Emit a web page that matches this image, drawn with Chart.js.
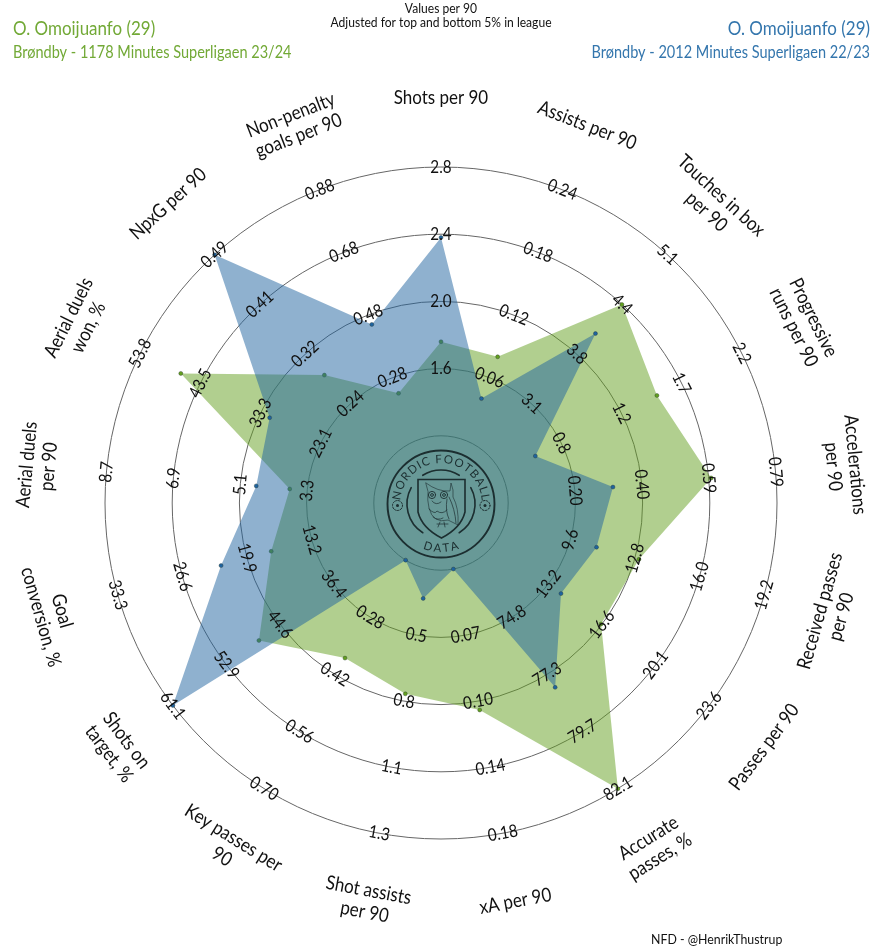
<!DOCTYPE html>
<html>
<head>
<meta charset="utf-8">
<title>O. Omoijuanfo radar</title>
<script src="https://cdn.jsdelivr.net/npm/chart.js@4"></script>
<style>
    html, body { margin: 0; padding: 0; background: #fff; }
    canvas { display: block; }
</style>
</head>
<body>
<canvas id="radar" width="883" height="950"></canvas>
<script>
// Metric names, clockwise from the top (\n = line break in the label)
const categories = [
    'Shots per 90', 'Assists per 90', 'Touches in box\nper 90', 'Progressive\nruns per 90',
    'Accelerations\nper 90', 'Received passes\nper 90', 'Passes per 90', 'Accurate\npasses, %',
    'xA per 90', 'Shot assists\nper 90', 'Key passes per\n90', 'Shots on\ntarget, %',
    'Goal\nconversion, %', 'Aerial duels\nper 90', 'Aerial duels\nwon, %', 'NpxG per 90',
    'Non-penalty\ngoals per 90'
];

// Lowest value of each axis (sits on the inner circle)
const axisMin = [1.2, 0, 2.43, 0.3, 0, 6.4, 9.7, 72.4, 0.03, 0.22, 0.14, 28.2, 6.5, 1.5, 12.9, 0.16, 0.08];
// Highest value of each axis (sits on the outer circle)
const axisMax = [2.8, 0.24, 5.1, 2.2, 0.79, 19.2, 23.6, 82.1, 0.18, 1.3, 0.70, 61.1, 33.3, 8.7, 53.8, 0.49, 0.88];

// Tick labels per ring (inner to outer), one row per ring
const ring2Labels = ['1.6', '0.06', '3.1', '0.8', '0.20', '9.6', '13.2', '74.8', '0.07', '0.5', '0.28', '36.4', '13.2', '3.3', '23.1', '0.24', '0.28'];
const ring3Labels = ['2.0', '0.12', '3.8', '1.2', '0.40', '12.8', '16.6', '77.3', '0.10', '0.8', '0.42', '44.6', '19.9', '5.1', '33.3', '0.32', '0.48'];
const ring4Labels = ['2.4', '0.18', '4.4', '1.7', '0.59', '16.0', '20.1', '79.7', '0.14', '1.1', '0.56', '52.9', '26.6', '6.9', '43.5', '0.41', '0.68'];
const ring5Labels = ['2.8', '0.24', '5.1', '2.2', '0.79', '19.2', '23.6', '82.1', '0.18', '1.3', '0.70', '61.1', '33.3', '8.7', '53.8', '0.49', '0.88'];

// Season values
const season2324 = [1.76, 0.08, 4.43, 1.53, 0.60, 13.0, 16.6, 82.1, 0.11, 0.73, 0.38, 47.9, 17.4, 3.77, 46.9, 0.29, 0.23];
const season2223 = [2.38, 0.04, 4.04, 0.57, 0.31, 10.9, 14.0, 77.8, 0.03, 0.34, 0.14, 61.1, 22.6, 4.67, 31.8, 0.49, 0.45];

const GREEN = '#639f1f';
const BLUE = '#1f639f';
const GREEN_TEXT = '#72a936';
const BLUE_TEXT = '#3476ad';
const FONT = 'Lato, "Open Sans", sans-serif';
// the lettering is a bit narrower than plain Lato
const NARROW = 0.87;

// Every axis has its own range, so convert to ring units: 1 = inner circle, 5 = outer circle
function toRing(values) {
    return values.map((v, i) => 1 + 4 * (v - axisMin[i]) / (axisMax[i] - axisMin[i]));
}

// Rotation of a text at axis i, flipped on the lower half so it stays readable
function labelRotation(scale, i) {
    let a = scale.getIndexAngle(i);
    if (a > Math.PI / 2 && a < Math.PI * 1.5) a -= Math.PI;
    return a;
}

function narrowText(ctx, txt, x, y) {
    ctx.save();
    ctx.translate(x, y);
    ctx.scale(NARROW, 1);
    ctx.fillText(txt, 0, 0);
    ctx.restore();
}

const radarLabels = {
    id: 'radarLabels',
    afterDatasetsDraw(chart) {
        const ctx = chart.ctx;
        const scale = chart.scales.r;
        const rings = [ring2Labels, ring3Labels, ring4Labels, ring5Labels];

        ctx.save();
        ctx.fillStyle = '#111';
        ctx.textAlign = 'center';
        ctx.textBaseline = 'middle';

        // tick labels on the rings
        ctx.font = '17.5px ' + FONT;
        rings.forEach((row, r) => {
            row.forEach((txt, i) => {
                const p = scale.getPointPositionForValue(i, r + 2);
                ctx.save();
                ctx.translate(p.x, p.y);
                ctx.rotate(labelRotation(scale, i));
                narrowText(ctx, txt, 0, 0);
                ctx.restore();
            });
        });

        // metric names outside the outer circle
        ctx.font = '19.5px ' + FONT;
        categories.forEach((name, i) => {
            const p = scale.getPointPositionForValue(i, 5 + 69 / 67.2);
            const lines = name.split('\n');
            ctx.save();
            ctx.translate(p.x, p.y);
            ctx.rotate(labelRotation(scale, i));
            lines.forEach((line, n) => {
                narrowText(ctx, line, 0, (n - (lines.length - 1) / 2) * 22);
            });
            ctx.restore();
        });
        ctx.restore();

        drawLogo(ctx, scale.xCenter, scale.yCenter + 1);
        drawHeader(ctx);
    }
};

// Letters spread along a circle; direction 1 runs over the top, -1 under the bottom
function arcText(ctx, txt, radius, spacing, direction) {
    const widths = [...txt].map(ch => ctx.measureText(ch).width);
    const total = widths.reduce((a, b) => a + b, 0) + spacing * (txt.length - 1);
    let pos = -total / 2;
    [...txt].forEach((ch, i) => {
        const mid = pos + widths[i] / 2;
        ctx.save();
        ctx.rotate(direction * mid / radius);
        ctx.fillText(ch, 0, -direction * radius);
        ctx.restore();
        pos += widths[i] + spacing;
    });
}

// Club-style badge in the middle of the radar
function drawLogo(ctx, cx, cy) {
    const ink = '#1c2e30';
    ctx.save();
    ctx.translate(cx, cy);
    ctx.strokeStyle = ink;
    ctx.fillStyle = ink;
    ctx.lineCap = 'round';

    ctx.lineWidth = 1.9;
    ctx.beginPath();
    ctx.arc(0, 0, 53.5, 0, Math.PI * 2);
    ctx.stroke();

    // arcs around the shield
    ctx.lineWidth = 1.6;
    ctx.beginPath();
    ctx.arc(0, 0, 34, -Math.PI * 0.68, -Math.PI * 0.32);
    ctx.stroke();
    ctx.beginPath();
    ctx.arc(0, 0, 34, Math.PI * 0.68, Math.PI * 1.16);
    ctx.stroke();
    ctx.beginPath();
    ctx.arc(0, 0, 34, -Math.PI * 0.16, Math.PI * 0.32);
    ctx.stroke();

    // shield
    ctx.lineWidth = 1.6;
    ctx.lineJoin = 'miter';
    ctx.beginPath();
    ctx.moveTo(-23, -24.5);
    ctx.lineTo(24, -24.5);
    ctx.lineTo(24, 8);
    ctx.quadraticCurveTo(20, 24, 0.5, 34);
    ctx.quadraticCurveTo(-19, 24, -23, 8);
    ctx.closePath();
    ctx.stroke();

    // owl outline
    ctx.lineWidth = 0.6;
    ctx.beginPath();
    ctx.moveTo(-15, -21);
    ctx.quadraticCurveTo(-3, -12, 9, -13);
    ctx.lineTo(10, -21);
    ctx.quadraticCurveTo(13, -14, 12, -7);
    ctx.quadraticCurveTo(18, 4, 17, 21);
    ctx.lineTo(7, 16);
    ctx.quadraticCurveTo(-8, 20, -12, 4);
    ctx.quadraticCurveTo(-14, -4, -13, -12);
    ctx.closePath();
    ctx.stroke();
    // eyes
    ctx.lineWidth = 0.9;
    [-9, 3].forEach(x => {
        ctx.beginPath();
        ctx.arc(x, -9, 3.6, 0, Math.PI * 2);
        ctx.stroke();
        ctx.beginPath();
        ctx.arc(x, -9, 1.4, 0, Math.PI * 2);
        ctx.stroke();
    });
    // chest and wing
    ctx.lineWidth = 0.7;
    ctx.beginPath();
    ctx.moveTo(-9, -3);
    ctx.quadraticCurveTo(-5, 2, 0, -2);
    ctx.moveTo(-12, 5);
    ctx.quadraticCurveTo(-6, 11, -4, 7);
    ctx.quadraticCurveTo(1, 11, 6, 6);
    ctx.moveTo(-8, 13);
    ctx.quadraticCurveTo(-3, 17, 2, 14);
    ctx.moveTo(8, -7);
    ctx.quadraticCurveTo(14, 5, 15, 19);
    ctx.moveTo(6, -5);
    ctx.quadraticCurveTo(4, 7, 8, 15);
    ctx.moveTo(-4, 20);
    ctx.lineTo(7, 20);
    ctx.moveTo(-1, 18);
    ctx.lineTo(-3, 23);
    ctx.moveTo(3, 18);
    ctx.lineTo(4, 23);
    ctx.stroke();

    // small balls left and right
    [-43.5, 44].forEach(x => {
        ctx.lineWidth = 1;
        ctx.setLineDash([1.6, 1.4]);
        ctx.beginPath();
        ctx.arc(x, 1.5, 5, 0, Math.PI * 2);
        ctx.stroke();
        ctx.setLineDash([]);
        ctx.beginPath();
        ctx.arc(x, 1.5, 1.5, 0, Math.PI * 2);
        ctx.fill();
    });

    // lettering around the ring
    ctx.font = '11.5px ' + FONT;
    ctx.textAlign = 'center';
    ctx.textBaseline = 'alphabetic';
    arcText(ctx, 'NORDIC FOOTBALL', 41, 1.1, 1);
    arcText(ctx, 'DATA', 48, 2, -1);
    ctx.restore();
}

function drawHeader(ctx) {
    ctx.save();
    ctx.textBaseline = 'alphabetic';

    ctx.textAlign = 'left';
    ctx.fillStyle = GREEN_TEXT;
    ctx.font = '19.5px ' + FONT;
    narrowText(ctx, 'O. Omoijuanfo (29)', 13, 35);
    ctx.font = '16.7px ' + FONT;
    narrowText(ctx, 'Brøndby - 1178 Minutes Superligaen 23/24', 13, 58);

    ctx.textAlign = 'right';
    ctx.fillStyle = BLUE_TEXT;
    ctx.font = '19.5px ' + FONT;
    narrowText(ctx, 'O. Omoijuanfo (29)', 870, 35);
    ctx.font = '16.7px ' + FONT;
    narrowText(ctx, 'Brøndby - 2012 Minutes Superligaen 22/23', 870, 58);

    ctx.textAlign = 'center';
    ctx.fillStyle = '#111';
    ctx.font = '13.9px ' + FONT;
    narrowText(ctx, 'Values per 90', 441, 13);
    narrowText(ctx, 'Adjusted for top and bottom 5% in league', 441, 27);

    ctx.textAlign = 'left';
    ctx.font = '14.2px ' + FONT;
    narrowText(ctx, 'NFD - @HenrikThustrup', 651, 944);
    ctx.restore();
}

function seriesStyle(color) {
    return {
        backgroundColor: color + '80',
        borderWidth: 0,
        fill: true,
        tension: 0,
        pointRadius: 2,
        pointBackgroundColor: color,
        pointBorderColor: '#2a3a30',
        pointBorderWidth: 0.4
    };
}

new Chart(document.getElementById('radar'), {
    type: 'radar',
    data: {
        labels: categories,
        // the first dataset is painted last, so blue sits over green
        datasets: [
            { label: '22/23', data: toRing(season2223), ...seriesStyle(BLUE) },
            { label: '23/24', data: toRing(season2324), ...seriesStyle(GREEN) }
        ]
    },
    options: {
        responsive: false,
        animation: false,
        layout: { padding: { left: 105, right: 106, top: 167, bottom: 111 } },
        plugins: { legend: { display: false }, tooltip: { enabled: false } },
        scales: {
            r: {
                min: 0,
                max: 5,
                ticks: { display: false, stepSize: 1 },
                pointLabels: { display: false },
                angleLines: { display: false },
                grid: { circular: true, color: '#666', lineWidth: 1 }
            }
        }
    },
    plugins: [radarLabels]
});
</script>
</body>
</html>
